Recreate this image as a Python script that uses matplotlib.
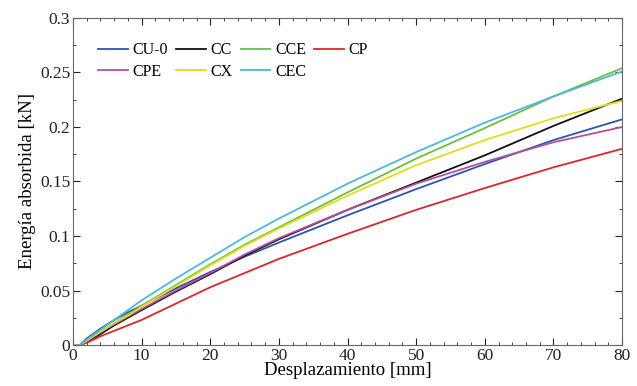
import numpy as np
import matplotlib.pyplot as plt
from matplotlib.ticker import MultipleLocator, FormatStrFormatter

plt.rcParams['font.family'] = ['Liberation Serif', 'DejaVu Serif']

# displacement [mm] sample points
x = [0, 1, 2, 4, 6, 8, 10, 15, 20, 25, 30, 40, 50, 60, 70, 80]

cu0 = [0, 0, 0.006, 0.015, 0.023, 0.030, 0.036, 0.052, 0.067, 0.081, 0.094, 0.119, 0.143, 0.166, 0.188, 0.207]
cc = [0, 0, 0.003, 0.010, 0.018, 0.025, 0.032, 0.049, 0.065, 0.082, 0.097, 0.124, 0.149, 0.174, 0.201, 0.226]
cce = [0, 0, 0.004, 0.012, 0.020, 0.028, 0.036, 0.055, 0.074, 0.092, 0.108, 0.140, 0.171, 0.199, 0.228, 0.254]
cp = [0, 0, 0.002, 0.008, 0.013, 0.018, 0.023, 0.038, 0.053, 0.066, 0.079, 0.102, 0.124, 0.144, 0.163, 0.180]
cpe = [0, 0, 0.004, 0.012, 0.019, 0.026, 0.033, 0.050, 0.066, 0.083, 0.098, 0.124, 0.148, 0.168, 0.186, 0.200]
cx = [0, 0, 0.004, 0.012, 0.020, 0.027, 0.035, 0.054, 0.073, 0.091, 0.107, 0.137, 0.165, 0.188, 0.208, 0.224]
cec = [0, 0, 0.005, 0.014, 0.023, 0.032, 0.041, 0.061, 0.080, 0.099, 0.116, 0.148, 0.177, 0.204, 0.228, 0.251]

series = [
    ('CU-0', cu0, '#2a55b0'),
    ('CC', cc, '#111111'),
    ('CCE', cce, '#6cbf3c'),
    ('CP', cp, '#e0242e'),
    ('CPE', cpe, '#b3509e'),
    ('CX', cx, '#dede1a'),
    ('CEC', cec, '#4db8df'),
]

fig = plt.figure(figsize=(6.37, 3.86), dpi=100)
ax = fig.add_axes([0.1146, 0.1062, 0.862, 0.8472])

lines = {}
for name, vals, col in series:
    lines[name], = ax.plot(x, vals, color=col, lw=1.3, label=name)

ax.set_xlim(0, 80)
ax.set_ylim(0, 0.3)
ax.xaxis.set_major_locator(MultipleLocator(10))
ax.xaxis.set_minor_locator(MultipleLocator(2))
ax.yaxis.set_major_locator(MultipleLocator(0.05))
ax.yaxis.set_minor_locator(MultipleLocator(0.025))
ax.yaxis.set_major_formatter(FormatStrFormatter('%g'))
ax.tick_params(which='both', direction='in', top=True, right=True, labelsize=12.5, colors='#222222')
ax.tick_params(which='major', length=5, pad=2)
ax.tick_params(which='minor', length=2.5)
for s in ax.spines.values():
    s.set_color('#666666')

ax.set_xlabel('Desplazamiento [mm]', fontsize=13.5, labelpad=-1)
ax.set_ylabel('Energía absorbida [kN]', fontsize=13.5, labelpad=3)

# legend fills column by column, so order it to read row-wise
order = ['CU-0', 'CPE', 'CC', 'CX', 'CCE', 'CEC', 'CP']
ax.legend([lines[n] for n in order], order, ncol=4, loc='upper left',
          bbox_to_anchor=(0.02, 0.97), frameon=False,
          fontsize=11.5, handlelength=1.85, handletextpad=0.3, columnspacing=0.5,
          labelspacing=0.35)

fig.savefig('out.png', dpi=100)
